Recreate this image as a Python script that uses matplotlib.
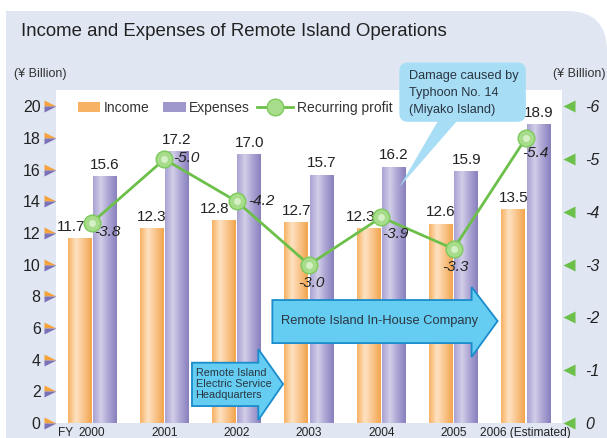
import numpy as np
import matplotlib
matplotlib.use('Agg')
import matplotlib.pyplot as plt
from matplotlib.patches import FancyBboxPatch, Rectangle, Polygon
from matplotlib.colors import LinearSegmentedColormap
import matplotlib.transforms as mtransforms

plt.rcParams['font.family'] = ['Liberation Sans', 'DejaVu Sans']

years = ['2000', '2001', '2002', '2003', '2004', '2005', '2006 (Estimated)']
income = [11.7, 12.3, 12.8, 12.7, 12.3, 12.6, 13.5]
expenses = [15.6, 17.2, 17.0, 15.7, 16.2, 15.9, 18.9]
profit = [-3.8, -5.0, -4.2, -3.0, -3.9, -3.3, -5.4]
left_ticks = [0, 2, 4, 6, 8, 10, 12, 14, 16, 18, 20]
right_ticks = [0, -1, -2, -3, -4, -5, -6]

# label nudges (points)
inc_dx = [-6, 0, -7, 0, -6, 0, 0]
prof_off = [(11, -7), (16, 1), (18, 0), (2, -13), (10, -12), (1, -13), (7, -11)]

W, H = 607, 438
fig = plt.figure(figsize=(W / 100, H / 100), dpi=100)

# background panel
bg = fig.add_axes([0, 0, 1, 1], zorder=0)
bg.set_xlim(0, W)
bg.set_ylim(H, 0)
bg.axis('off')
panel_c = '#e0e7f3'
bg.add_patch(FancyBboxPatch((6, 11), 601, 480, boxstyle='round,pad=0,rounding_size=40',
                            fc=panel_c, ec='none'))
bg.add_patch(Rectangle((6, 11), 100, 100, fc=panel_c, ec='none'))
bg.text(21, 32, 'Income and Expenses of Remote Island Operations', fontsize=13.4,
        color='#222222', va='center', ha='left')
bg.text(14, 74, '(¥ Billion)', fontsize=9, color='#333333', va='center')
bg.text(553, 74, '(¥ Billion)', fontsize=9, color='#333333', va='center')

ax = fig.add_axes([56 / W, 1 - 423 / H, 506 / W, 333 / H], zorder=1)
ax.set_facecolor('white')
x = np.arange(len(years))
bw = 0.33
ax.set_xlim(-0.5, 6.5)
ax.set_ylim(0, 21.04)

orange_cm = LinearSegmentedColormap.from_list('o', ['#f7b264', '#fde2c2', '#f9c489', '#f3a54e'])
purple_cm = LinearSegmentedColormap.from_list('p', ['#a9a3d3', '#d2cee8', '#aaa3d3', '#8880bd'])
grad = np.linspace(0, 1, 64).reshape(1, -1)

b1 = ax.bar(x - 0.175, income, bw, color='#f7b264', label='Income', zorder=2)
b2 = ax.bar(x + 0.175, expenses, bw, color='#9d97cc', label='Expenses', zorder=2)
for bars, cm in ((b1, orange_cm), (b2, purple_cm)):
    for p in bars:
        x0, y0 = p.get_x(), p.get_y()
        im = ax.imshow(grad, cmap=cm, aspect='auto', zorder=2.5,
                       extent=(x0, x0 + p.get_width(), y0, y0 + p.get_height()))
        im.set_clip_path(p)

for i in range(len(years)):
    ax.annotate(f'{income[i]:.1f}', (x[i] - 0.175, income[i]), xytext=(inc_dx[i], 3),
                textcoords='offset points', ha='center', va='bottom', fontsize=11,
                color='#222222', zorder=6)
    ax.annotate(f'{expenses[i]:.1f}', (x[i] + 0.175, expenses[i]), xytext=(0, 3),
                textcoords='offset points', ha='center', va='bottom', fontsize=11,
                color='#222222', zorder=6)

ax.set_xticks(x)
ax.set_xticklabels(years, fontsize=8.6, color='#222222')
ax.tick_params(axis='x', length=0, pad=3)
ax.text(-0.37, -0.012, 'FY', transform=mtransforms.blended_transform_factory(ax.transData, ax.transAxes),
        ha='center', va='top', fontsize=8.6, color='#222222')
ax.set_yticks(left_ticks)
ax.set_yticklabels([str(t) for t in left_ticks], fontsize=11.5, color='#222222')
ax.tick_params(axis='y', length=0, pad=11)
for s in ax.spines.values():
    s.set_visible(False)
tl = mtransforms.blended_transform_factory(ax.transAxes, ax.transData)
ax.plot([-0.011] * len(left_ticks), left_ticks, ls='none', marker='>', ms=8.5,
        fillstyle='top', mfc='#f5a33c', mfcalt='#7b72b8', mec='none', transform=tl, clip_on=False)

ax2 = ax.twinx()
ax2.set_ylim(0, -6 * 21.04 / 20)
ax2.set_yticks(right_ticks)
ax2.set_yticklabels([str(t) for t in right_ticks], fontsize=11.5, style='italic', color='#222222')
ax2.tick_params(axis='y', length=0, pad=17)
for s in ax2.spines.values():
    s.set_visible(False)
tr = mtransforms.blended_transform_factory(ax2.transAxes, ax2.transData)
ax2.plot([1.013] * len(right_ticks), right_ticks, ls='none', marker='<', ms=9,
         color='#6cc04a', mec='none', transform=tr, clip_on=False)

line, = ax2.plot(x, profit, color='#6cc04a', lw=2, marker='o', ms=12, mfc='#a6dc8a',
                 mec='#7dca5c', mew=1, zorder=5, label='Recurring profit')
ax2.plot(x, profit, ls='none', marker='o', ms=5, mfc='#d4f0c4', mec='none', zorder=5.1)
for i in range(len(years)):
    ax2.annotate(f'{profit[i]:.1f}', (x[i], profit[i]), xytext=prof_off[i],
                 textcoords='offset points', ha='center', va='center', fontsize=11,
                 style='italic', color='#222222', zorder=6)

# legends: bars and line have different handle lengths
leg1 = ax2.legend([b1, b2], ['Income', 'Expenses'], ncol=2, loc='center left',
                  bbox_to_anchor=(0.0435, 0.946), frameon=False, fontsize=10,
                  handlelength=1.6, handleheight=0.7, columnspacing=1.0, handletextpad=0.25,
                  borderpad=0, borderaxespad=0, labelcolor='#333333')
ax2.add_artist(leg1)
ax2.legend([line], ['Recurring profit'], loc='center left', bbox_to_anchor=(0.397, 0.946),
           frameon=False, fontsize=10, handlelength=2.6, handletextpad=0.3, borderpad=0,
           borderaxespad=0, labelcolor='#333333')

# arrows and callout, in data coordinates of the main axes
arrow_fc, arrow_ec = '#66cdf2', '#1a8ccc'
big = [(2.493, 7.77), (5.249, 7.77), (5.249, 8.59), (5.609, 6.44), (5.249, 4.17),
       (5.249, 5.05), (2.493, 5.05)]
ax.add_patch(Polygon(big, closed=True, fc=arrow_fc, ec=arrow_ec, lw=1.3, zorder=7, clip_on=False))
ax.text(3.97, 6.44, 'Remote Island In-House Company', ha='center', va='center',
        fontsize=9.3, color='#2a3540', zorder=8)
small = [(1.381, 3.81), (2.299, 3.81), (2.299, 4.67), (2.641, 2.46), (2.299, 0.19),
         (2.299, 1.07), (1.381, 1.07)]
ax.add_patch(Polygon(small, closed=True, fc=arrow_fc, ec=arrow_ec, lw=1.3, zorder=7, clip_on=False))
ax.text(1.43, 2.46, 'Remote Island\nElectric Service\nHeadquarters', ha='left', va='center',
        fontsize=7.8, color='#2a3540', linespacing=1.1, zorder=8)

call_c = '#a8ddf6'
ax.add_patch(FancyBboxPatch((4.25, 19.03), 1.75, 3.75, boxstyle='round,pad=0,rounding_size=0.12',
                            mutation_aspect=4.5, fc=call_c, ec='none', zorder=7, clip_on=False))
ax.add_patch(Polygon([(4.80, 19.2), (5.07, 19.2), (4.25, 14.9)], closed=True, fc=call_c,
                     ec='none', zorder=7, clip_on=False))
ax.text(4.38, 20.85, 'Damage caused by\nTyphoon No. 14\n(Miyako Island)', ha='left', va='center',
        fontsize=9.2, color='#2a3540', linespacing=1.55, zorder=8)

fig.savefig('out.png', dpi=100)
